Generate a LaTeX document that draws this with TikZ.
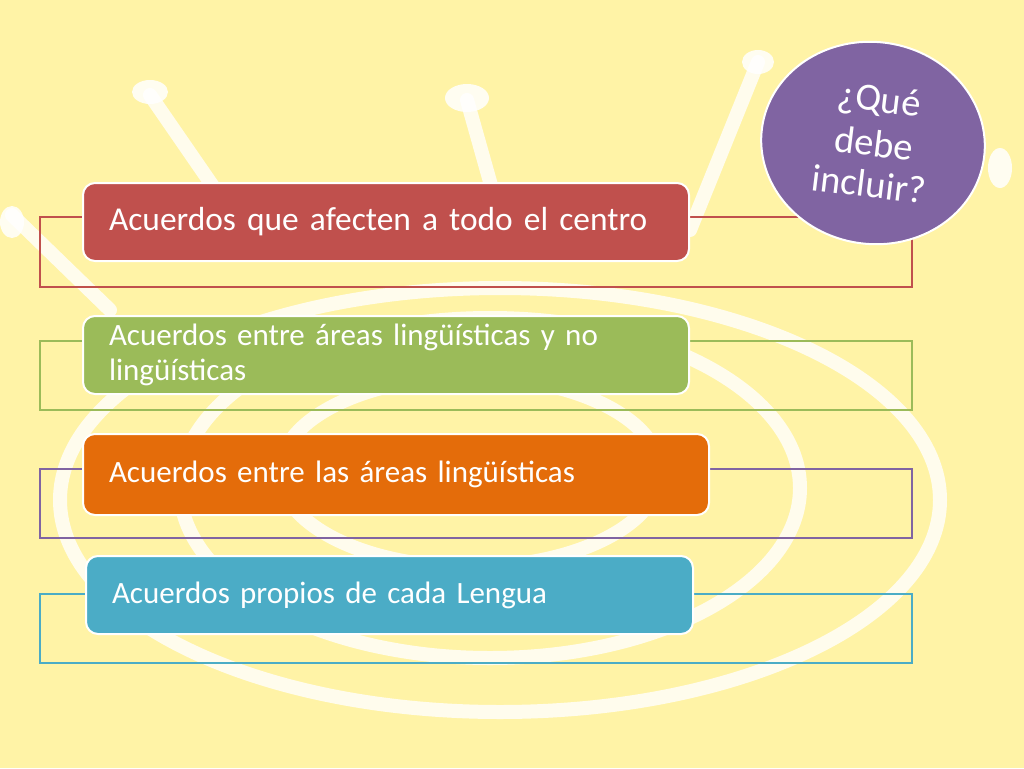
\documentclass[tikz,border=0pt]{standalone}
\usepackage{fontspec}
\setmainfont{Carlito}
\usetikzlibrary{shapes.geometric}
\definecolor{bgy}{HTML}{FFF3A6}
\definecolor{cred}{HTML}{C0504D}
\definecolor{cgreen}{HTML}{9BBB59}
\definecolor{corange}{HTML}{E46C0A}
\definecolor{cteal}{HTML}{4BACC6}
\definecolor{cpur}{HTML}{8064A2}
\begin{document}
\begin{tikzpicture}[x=1pt,y=-1pt,
  bx/.style={rounded corners=12pt, draw=white, line width=2pt, text=white,
    anchor=north west, align=left, inner xsep=26pt, inner ysep=0pt,
    font=\fontsize{31}{35}\selectfont},
  frame/.style={line width=2pt},
  scrib/.style={white, line width=14pt, opacity=0.8, line cap=round},
  blob/.style={white, opacity=0.85},
  qtxt/.style={text=white, rotate=-7, inner sep=0pt, font=\fontsize{38.5}{42}\selectfont}]
\fill[bgy] (0,0) rectangle (1024,768);
\useasboundingbox (0,0) rectangle (1024,768);
% background scribbles
\draw[scrib] (500,500) ellipse [x radius=440pt, y radius=212pt];
\draw[scrib] (490,488) ellipse [x radius=310pt, y radius=170pt];
\draw[scrib] (470,472) ellipse [x radius=190pt, y radius=95pt];
\draw[scrib] (150,95) -- (250,240);
\draw[scrib] (467,100) -- (505,235);
\draw[scrib] (758,62) -- (690,230);
\draw[scrib] (12,215) -- (110,310);
\fill[blob] (150,92) ellipse [x radius=18pt, y radius=12pt];
\fill[blob] (467,98) ellipse [x radius=22pt, y radius=14pt];
\fill[blob] (758,62) ellipse [x radius=16pt, y radius=12pt];
\fill[blob] (1000,168) ellipse [x radius=12pt, y radius=20pt];
\fill[blob] (12,222) ellipse [x radius=12pt, y radius=16pt];
% frames
\coordinate (f1a) at (40,217); \coordinate (f1b) at (912,287);
\coordinate (f2a) at (40,341); \coordinate (f2b) at (912,410);
\coordinate (f3a) at (40,469); \coordinate (f3b) at (912,538);
\coordinate (f4a) at (40,594); \coordinate (f4b) at (912,663);
\draw[frame, draw=cred] (f1a) rectangle (f1b);
\draw[frame, draw=cgreen] (f2a) rectangle (f2b);
\draw[frame, draw=cpur] (f3a) rectangle (f3b);
\draw[frame, draw=cteal] (f4a) rectangle (f4b);
% boxes
\node[bx, fill=cred, minimum width=606pt, minimum height=78pt, text width=554pt, font=\fontsize{33.4}{36}\selectfont] (b1) at (82,182) {Acuerdos que afecten a todo el centro};
\node[bx, fill=cgreen, minimum width=606pt, minimum height=78pt, text width=554pt] (b2) at (82,315) {Acuerdos entre áreas lingüísticas y no\\lingüísticas};
\node[bx, fill=corange, minimum width=626pt, minimum height=81pt, text width=574pt] (b3) at (82,433) {Acuerdos entre las áreas lingüísticas};
\node[bx, fill=cteal, minimum width=607pt, minimum height=78pt, text width=555pt] (b4) at (85,555) {Acuerdos propios de cada Lengua};
% circle
\node[ellipse, fill=cpur, draw=white, line width=2pt, minimum width=224pt, minimum height=202pt, rotate=-8, inner sep=0pt] (q) at (873,143) {};
\node[qtxt] (q1) at ([shift={(6,-41)}]q.center) {¿Qué};
\node[qtxt] (q2) at ([shift={(1,0)}]q.center) {debe};
\node[qtxt] (q3) at ([shift={(-4,41)}]q.center) {incluir?};
\end{tikzpicture}
\end{document}
